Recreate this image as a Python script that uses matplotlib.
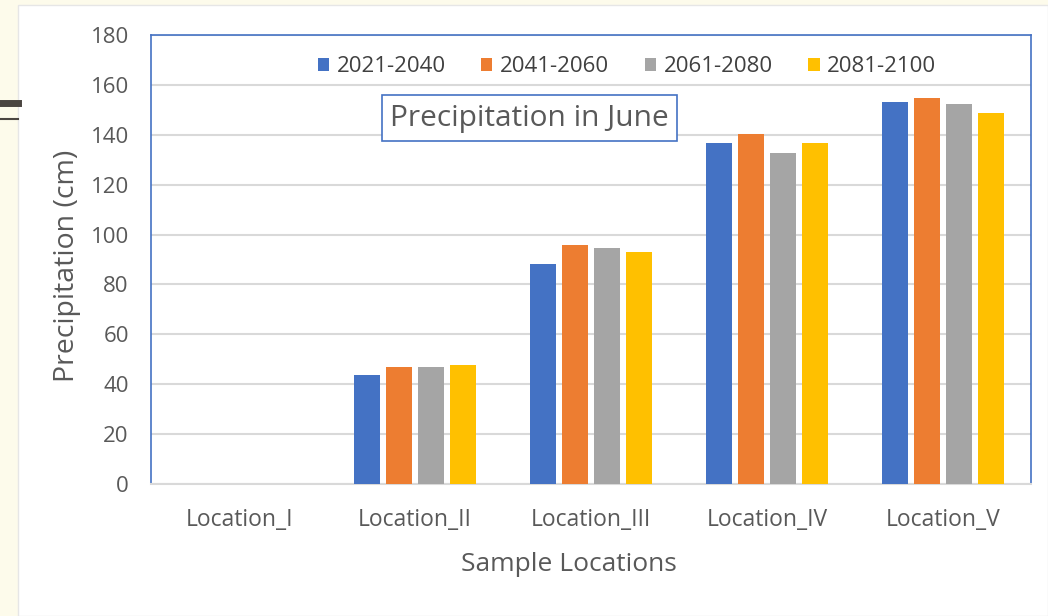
"""
    june_precip.py

    Grouped bars of June precipitation for sample locations
"""

from matplotlib import pyplot as plt
from matplotlib.lines import Line2D
from matplotlib.patches import Rectangle

import numpy as np

locations = ['Location_I', 'Location_II', 'Location_III', 'Location_IV', 'Location_V']
periods = ['2021-2040', '2041-2060', '2061-2080', '2081-2100']

p2021 = [0, 43.6, 88.1, 136.9, 153.0]
p2041 = [0, 47.0, 95.7, 140.3, 154.8]
p2061 = [0, 47.0, 94.8, 132.6, 152.2]
p2081 = [0, 47.8, 93.2, 136.9, 148.9]

colors = ['#4472c4', '#ed7d31', '#a5a5a5', '#ffc000']
txt = '#595959'

plt.rcParams['font.family'] = ['Open Sans', 'DejaVu Sans']

fig = plt.figure(figsize = (10.48, 6.16), dpi = 100, facecolor = '#fdfbeb')

# white slide panel + little decoration on the left
fig.patches.append(Rectangle((18/1048., 0), 1 - 18/1048., 611/616., transform = fig.transFigure,
                             facecolor = 'white', edgecolor = '#e6e6e6', lw = 1, zorder = -10))
fig.lines.append(Line2D([0, 18/1048.], [1 - 103/616., 1 - 103/616.], transform = fig.transFigure,
                        color = '#4a4540', lw = 5))
fig.lines.append(Line2D([0, 18/1048.], [1 - 119/616., 1 - 119/616.], transform = fig.transFigure,
                        color = '#4a4540', lw = 1.5))

ax = fig.add_axes([151/1048., 1 - 484/616., 880/1048., 449/616.])
ax.set_facecolor('white')

x = np.arange(len(locations))
w = 26/176.
step = 32/176.
series = [p2021, p2041, p2061, p2081]
for i, (vals, lab, c) in enumerate(zip(series, periods, colors)):
    ax.bar(x + (i - 1.5)*step, vals, width = w, color = c, label = lab, zorder = 3)

ax.set_xlim(-0.5, len(locations) - 0.5)
ax.set_ylim(0, 180)
ax.set_yticks(np.arange(0, 181, 20))
ax.set_xticks(x)
ax.set_xticklabels(locations)
ax.yaxis.grid(True, color = '#d9d9d9', lw = 1.5, zorder = 0)
ax.tick_params(length = 0, labelcolor = txt)
ax.tick_params(axis = 'x', pad = 17, labelsize = 16.5)
ax.tick_params(axis = 'y', pad = 16, labelsize = 16)
for s in ax.spines.values():
    s.set_color('#4472c4')
    s.set_linewidth(1.2)
ax.spines['bottom'].set_color('#d9d9d9')
ax.spines['bottom'].set_linewidth(1.5)

ax.set_xlabel('Sample Locations', fontsize = 19, color = txt)
ax.xaxis.set_label_coords(0.475, -0.152)
ax.set_ylabel('Precipitation (cm)', fontsize = 20.5, color = txt)
ax.yaxis.set_label_coords(-70/880., 0.485)

ax.legend(loc = 'center', bbox_to_anchor = (0.541, 0.929), ncol = 4, frameon = False,
          fontsize = 16, labelcolor = '#404040', handlelength = 0.5, handleheight = 0.5,
          handletextpad = 0.35, columnspacing = 1.6)

ax.text(0.43, 0.815, 'Precipitation in June', transform = ax.transAxes, ha = 'center', va = 'center',
        fontsize = 21.5, color = txt,
        bbox = dict(boxstyle = 'square,pad=0.28', facecolor = 'white', edgecolor = '#4472c4', lw = 1.2))

fig.savefig('out.png', dpi = 100, facecolor = fig.get_facecolor())
